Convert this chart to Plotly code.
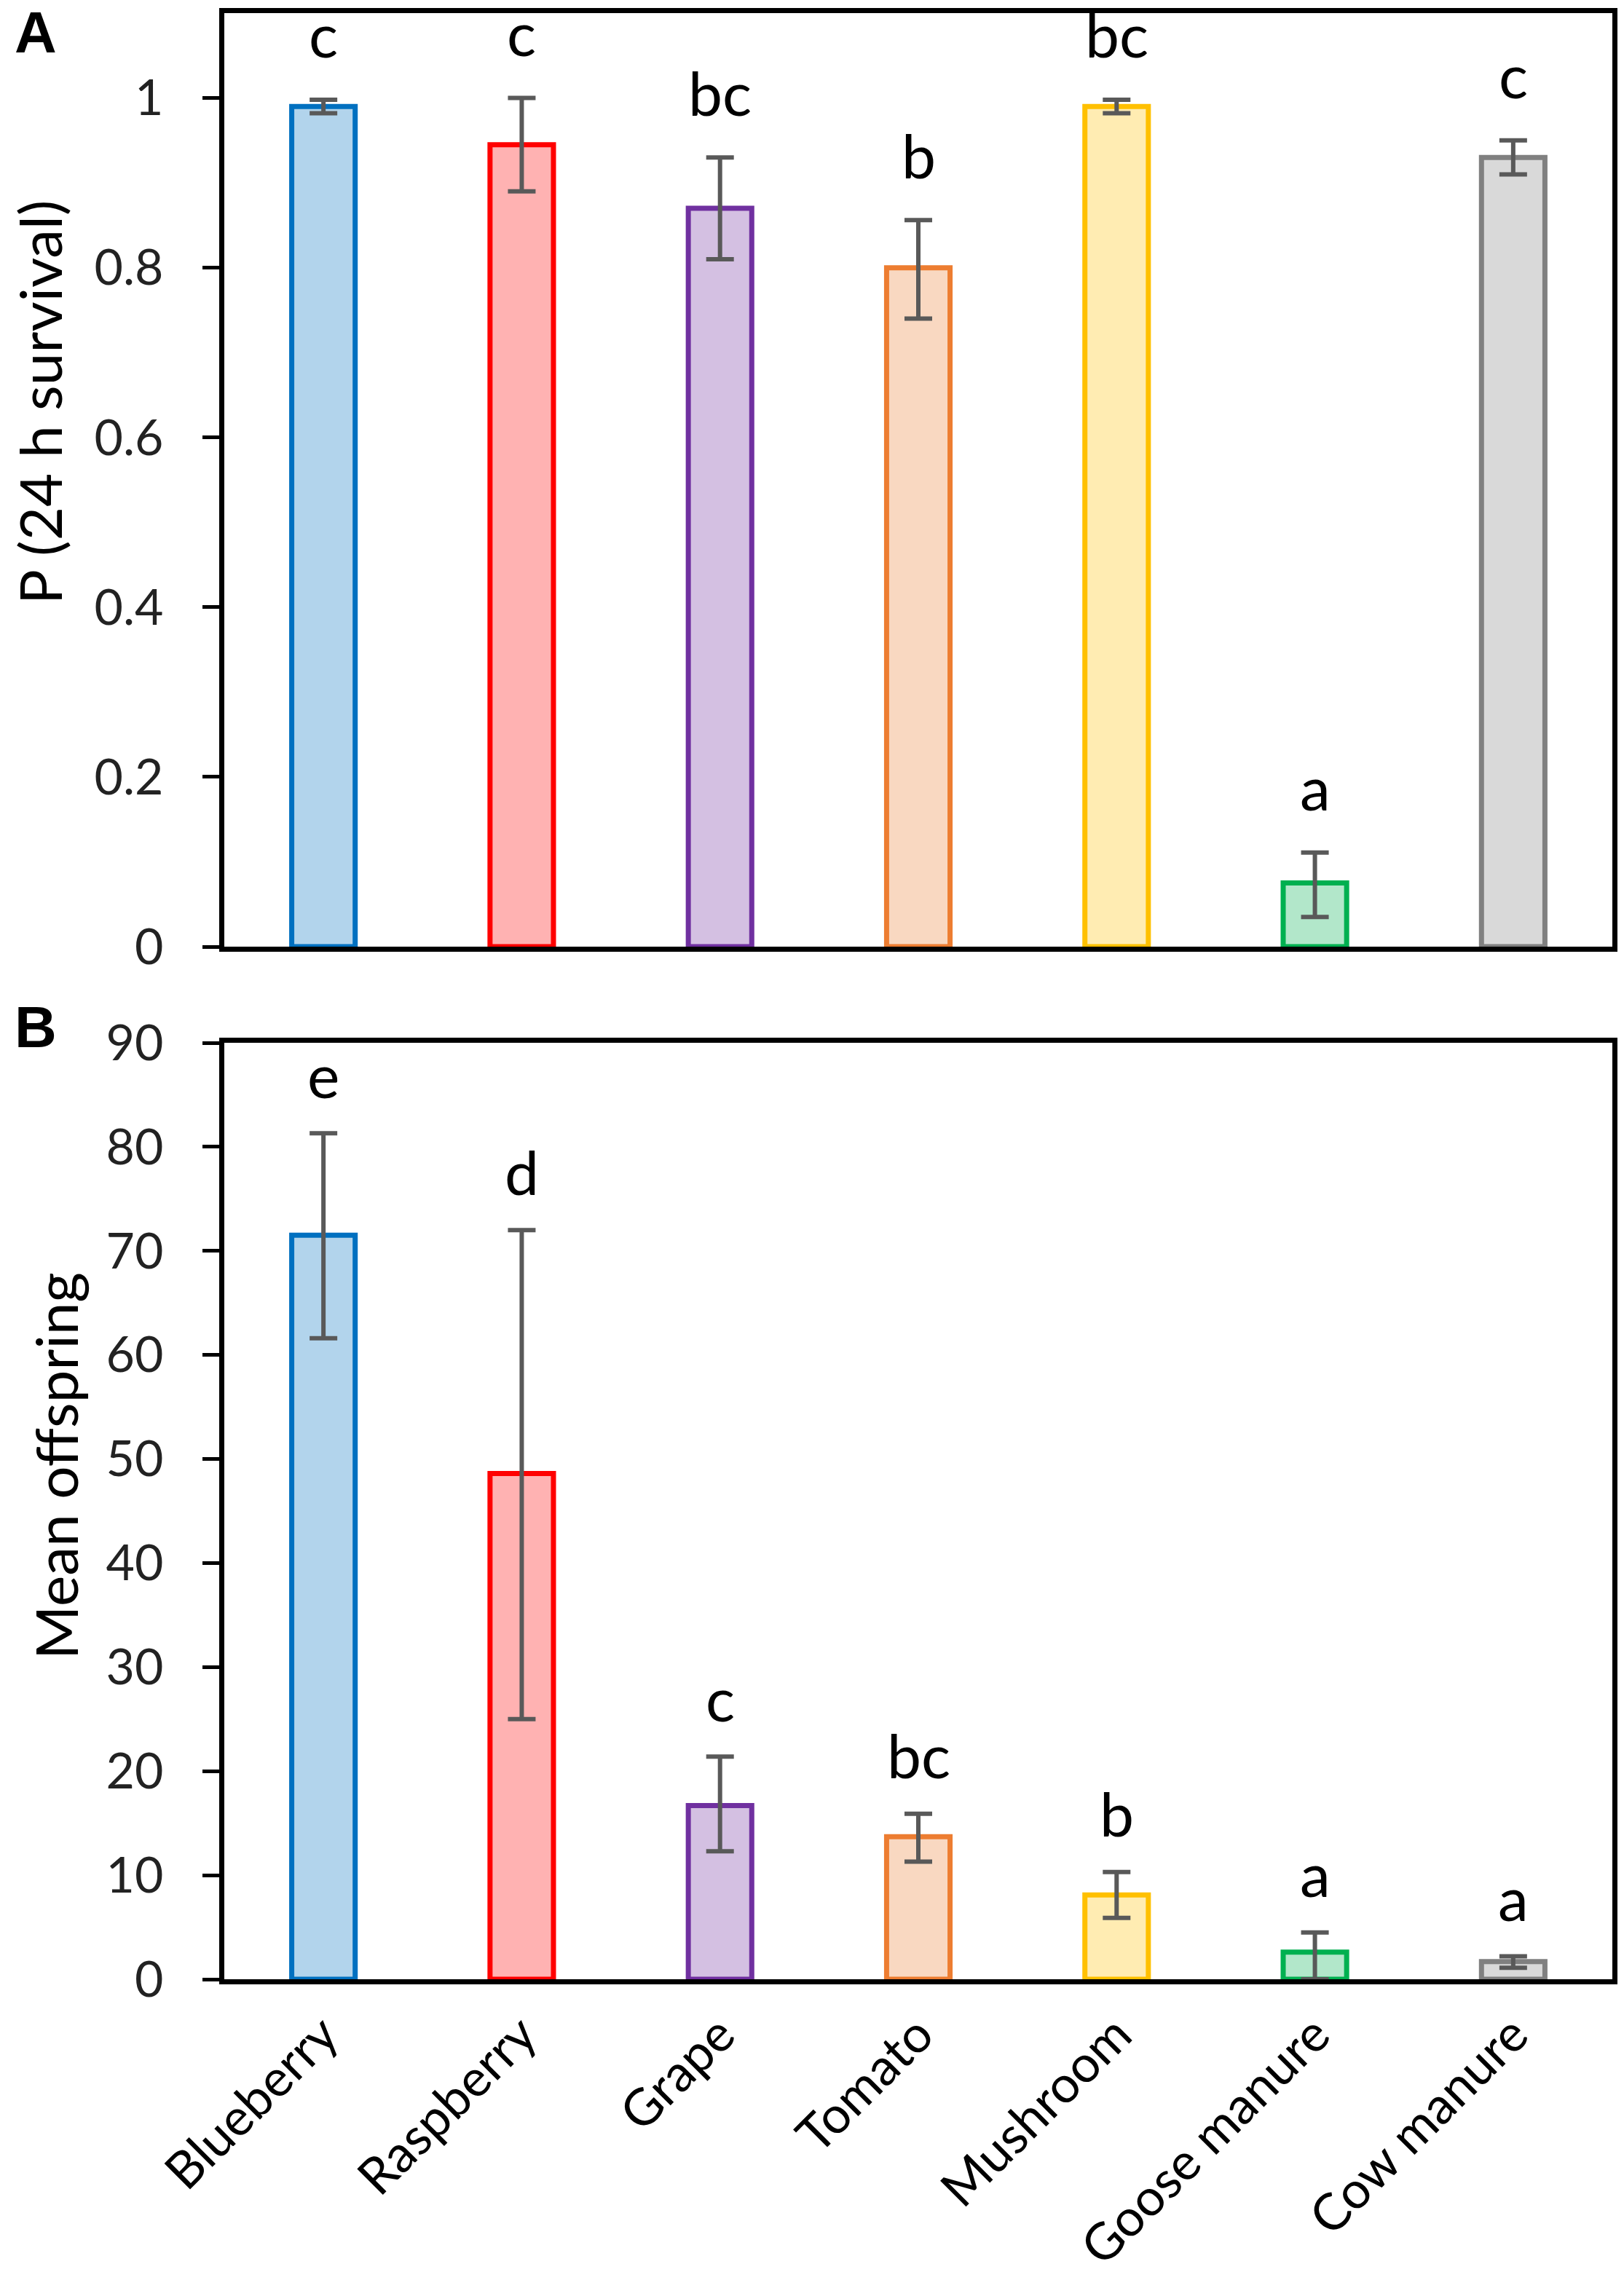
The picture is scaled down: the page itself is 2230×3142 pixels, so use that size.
import plotly.graph_objects as go
from plotly.subplots import make_subplots

# categories and colours
foods = ['Blueberry', 'Raspberry', 'Grape', 'Tomato', 'Mushroom', 'Goose manure', 'Cow manure']
line_cols = ['#0070C0', '#FF0000', '#7030A0', '#ED7D31', '#FFC000', '#00B050', '#808080']
fill_cols = ['#B2D4EC', '#FFB2B2', '#D4C0E2', '#F9D8C1', '#FFECB2', '#B2E7CA', '#D9D9D9']

# panel A: 24 h survival
surv = [0.99, 0.945, 0.87, 0.80, 0.99, 0.075, 0.93]
surv_up = [0.008, 0.055, 0.06, 0.056, 0.008, 0.036, 0.02]
surv_dn = [0.008, 0.055, 0.06, 0.06, 0.008, 0.04, 0.02]
surv_letters = ['c', 'c', 'bc', 'b', 'bc', 'a', 'c']

# panel B: mean offspring
offs = [71.5, 48.6, 16.7, 13.7, 8.1, 2.6, 1.7]
offs_up = [9.8, 23.4, 4.7, 2.2, 2.2, 1.9, 0.5]
offs_dn = [9.9, 23.6, 4.4, 2.4, 2.2, 2.6, 0.6]
offs_letters = ['e', 'd', 'c', 'bc', 'b', 'a', 'a']

surv_ticks = [0, 0.2, 0.4, 0.6, 0.8, 1]
surv_ticktext = ['0', '0.2', '0.4', '0.6', '0.8', '1']
offs_ticks = [0, 10, 20, 30, 40, 50, 60, 70, 80, 90]

FONT = 'Lato'
W, H = 2230, 3142
L, R, T, B = 300, 24, 10, 432
pw, ph = W - L - R, H - T - B


def px(x):
    # figure pixel -> paper x
    return (x - L) / pw


def py(y):
    # figure pixel (from top) -> paper y
    return (H - B - y) / ph


fig = make_subplots(rows=2, cols=1)

err_style = dict(color='#595959', thickness=6, width=19)

fig.add_trace(go.Bar(x=foods, y=surv, width=0.32,
                     marker=dict(color=fill_cols, line=dict(color=line_cols, width=7)),
                     error_y=dict(type='data', symmetric=False, array=surv_up,
                                  arrayminus=surv_dn, **err_style),
                     showlegend=False), row=1, col=1)
fig.add_trace(go.Bar(x=foods, y=offs, width=0.32,
                     marker=dict(color=fill_cols, line=dict(color=line_cols, width=7)),
                     error_y=dict(type='data', symmetric=False, array=offs_up,
                                  arrayminus=offs_dn, **err_style),
                     showlegend=False), row=2, col=1)

# significance letters above the error bars
for f, v, e, l in zip(foods, surv, surv_up, surv_letters):
    fig.add_annotation(x=f, y=v + e, xref='x', yref='y', text=l, showarrow=False,
                       yanchor='middle', yshift=90, font=dict(size=84, color='black', family=FONT))
for f, v, e, l in zip(foods, offs, offs_up, offs_letters):
    fig.add_annotation(x=f, y=v + e, xref='x2', yref='y2', text=l, showarrow=False,
                       yanchor='middle', yshift=81, font=dict(size=84, color='black', family=FONT))

# panel letters
fig.add_annotation(x=px(10), y=py(36), xref='paper', yref='paper', text='<b>A</b>',
                   showarrow=False, xanchor='left', yanchor='middle',
                   font=dict(size=80, color='black', family='Liberation Sans'))
fig.add_annotation(x=px(10), y=py(1402), xref='paper', yref='paper', text='<b>B</b>',
                   showarrow=False, xanchor='left', yanchor='middle',
                   font=dict(size=80, color='black', family='Liberation Sans'))

# axis titles
fig.add_annotation(x=px(46), y=py(545), xref='paper', yref='paper', text='P (24 h survival)',
                   textangle=-90, showarrow=False, xanchor='center', yanchor='middle',
                   font=dict(size=80, color='black', family=FONT))
fig.add_annotation(x=px(68), y=py(2005), xref='paper', yref='paper', text='Mean offspring',
                   textangle=-90, showarrow=False, xanchor='center', yanchor='middle',
                   font=dict(size=80, color='black', family=FONT))

axis_common = dict(showline=True, linecolor='black', linewidth=7, mirror=True,
                   showgrid=False, zeroline=False)
ytick_font = dict(size=68, color='#222222', family=FONT)

fig.update_xaxes(axis_common, showticklabels=False, ticks='', row=1, col=1)
fig.update_xaxes(axis_common, ticks='', tickangle=-45,
                 tickfont=dict(size=70, color='black', family=FONT), row=2, col=1)
fig.update_yaxes(axis_common, range=[0, 1.1], tickvals=surv_ticks, ticktext=surv_ticktext,
                 ticks='outside', ticklen=23, tickwidth=5, tickcolor='black',
                 tickfont=ytick_font, ticklabelstandoff=40, row=1, col=1)
fig.update_yaxes(axis_common, range=[0, 90], tickvals=offs_ticks,
                 ticks='outside', ticklen=23, tickwidth=5, tickcolor='black',
                 tickfont=ytick_font, ticklabelstandoff=40, row=2, col=1)

fig.update_layout(width=W, height=H, plot_bgcolor='white', paper_bgcolor='white',
                  margin=dict(l=L, r=R, t=T, b=B, autoexpand=False),
                  yaxis=dict(domain=[py(1292), 1]), yaxis2=dict(domain=[0, py(1424)]))

fig.write_html("out.html")
